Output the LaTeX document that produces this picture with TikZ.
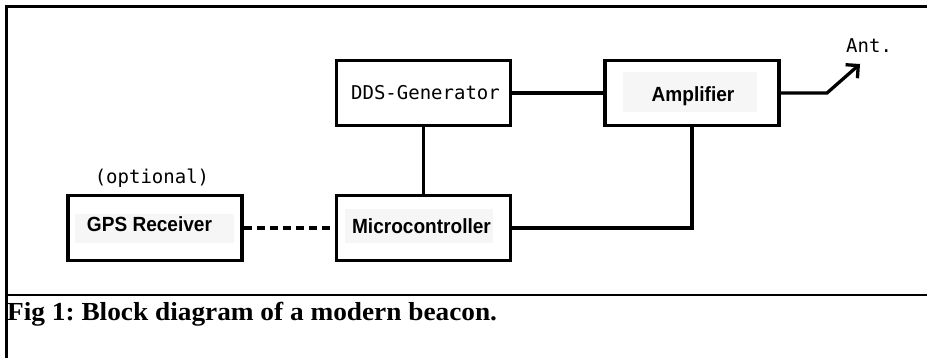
\documentclass[tikz,border=0pt]{standalone}
\usepackage{fontspec}
\setmainfont{Liberation Serif}
\setsansfont{Liberation Sans}
\newfontfamily\plotfont{DejaVu Sans Mono}
\usetikzlibrary{arrows.meta}
\definecolor{innergray}{RGB}{246,246,246}
\frenchspacing
\begin{document}
\begin{tikzpicture}[x=1pt,y=-1pt,
  blk/.style={draw, line width=3.3pt, fill=white, minimum width=174pt, minimum height=65pt, inner sep=0pt},
  wire/.style={line width=3.3pt},
  plot/.style={inner sep=0pt, font=\plotfont\fontsize{19}{19}\selectfont},
  lbl/.style={inner sep=0pt, anchor=base, font=\sffamily\bfseries\fontsize{20.5}{20.5}\selectfont},
  frame/.style={line width=3pt}]
\useasboundingbox (0,0) rectangle (927,358);
% frame
\draw[frame] (927,7) -- (6,7) -- (6,358);
\draw[line width=1.6pt] (6,295) -- (927,295);
% boxes
\node[blk] (dds) at (423.5,93) {};
\node[blk] (amp) at (692,93) {};
\node[blk] (gps) at (155,228) {};
\node[blk] (mcu) at (423.5,228) {};
% inner gray panels
\fill[innergray] (75,214) rectangle (234,243);
\fill[innergray] (345,209) rectangle (493,243);
\fill[innergray] (623,72) rectangle (757,112);
% texts
\node[plot, anchor=base] (ddst) at (425.5,100) {DDS-Generator};
\node[lbl] (ampt) at (693,102) {\scalebox{0.93}[1]{Amplifier}};
\node[lbl] (gpst) at (149.5,232) {\scalebox{0.93}[1]{GPS Receiver}};
\node[lbl] (mcut) at (421.5,234) {\scalebox{0.93}[1]{Microcontroller}};
\node[plot, anchor=base] (opt) at (152,184) {(optional)};
\node[plot, anchor=base west] (ant) at (846,53) {Ant.};
% connectors
\draw[wire] (dds) -- (amp);
\draw[wire] (dds) -- (mcu);
\draw[wire, dash pattern=on 8pt off 5pt] (gps) -- (mcu);
\draw[wire] (mcu) -| (amp);
\coordinate (knee) at (827,93);
\coordinate (tip) at (860,64);
\draw[wire, line join=miter, -{Straight Barb[length=9pt,width=18pt]}] (amp.east) -- (knee) -- (tip);
% caption
\node[inner sep=0pt, anchor=base west, font=\rmfamily\bfseries\fontsize{26}{26}\selectfont] (cap) at (7,320) {\scalebox{1.05}[1]{Fig 1: Block diagram of a modern beacon.}};
\end{tikzpicture}
\end{document}
